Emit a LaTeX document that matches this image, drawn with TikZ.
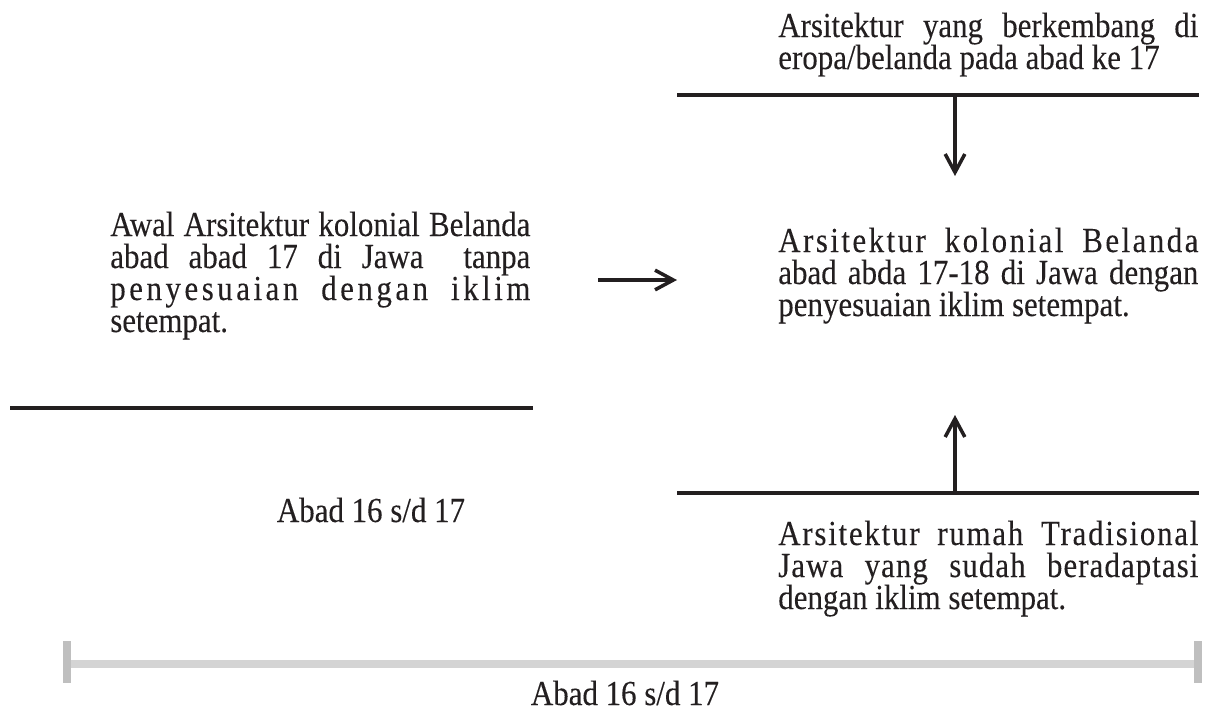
\documentclass[tikz,border=0pt]{standalone}
\usepackage{fontspec}
\setmainfont{Liberation Serif}[FakeStretch=0.88,FakeBold=0.15]
\usepackage{tikz}
\usetikzlibrary{arrows.meta,positioning}

\definecolor{ink}{HTML}{231F20}
\definecolor{barlight}{HTML}{D4D4D4}
\definecolor{bardark}{HTML}{BFBFBF}
\setlength{\lineskiplimit}{-10pt}

% justified line and letter spaced words
\newcommand\jl[1]{\makebox[\hsize][s]{#1}}
\newcommand\ls[2]{{\addfontfeature{LetterSpace=#1}#2}}

\begin{document}
\begin{tikzpicture}[x=0.025cm,y=-0.025cm,
    blok/.style={anchor=base west,inner sep=0pt,text width=10.5cm,align=justify,text=ink,
        font=\fontsize{25}{22.76}\selectfont},
    lbl/.style={anchor=base,inner sep=0pt,text=ink,font=\fontsize{25}{22.76}\selectfont},
    rule/.style={ink,line width=2.5pt},
    arr/.style={ink,line width=2.5pt,-{Straight Barb[length=13pt,width=14pt]}}]
    \useasboundingbox (0,0) rectangle (1211,711);

    % Texts
    \node[blok] (eropa) at (778,37) {\jl{Arsitektur yang berkembang di}\\ eropa/belanda pada abad ke 17};
    \node[blok] (awal) at (110,236) {\jl{Awal Arsitektur kolonial Belanda}\\ \jl{abad abad 17 di Jawa\ \ tanpa}\\ \jl{\ls{10}{penyesuaian dengan iklim}}\\ setempat.};
    \node[blok] (kolonial) at (778,252) {\jl{\ls{7}{Arsitektur kolonial Belanda}}\\ \jl{abad abda 17-18 di Jawa dengan}\\ penyesuaian iklim setempat.};
    \node[blok] (rumah) at (778,545) {\jl{\ls{5}{Arsitektur rumah Tradisional}}\\ \jl{\ls{3}{Jawa yang sudah beradaptasi}}\\ dengan iklim setempat.};
    \node[lbl] (abadkiri) at (371,522) {Abad 16 s/d 17};
    \node[lbl] (abadbawah) at (625,705) {Abad 16 s/d 17};

    % Rules
    \coordinate (atas-l) at (677,95); \coordinate (atas-r) at (1199,95);
    \coordinate (kiri-l) at (10,408); \coordinate (kiri-r) at (533,408);
    \coordinate (bawah-l) at (677,493); \coordinate (bawah-r) at (1199,493);
    \draw[rule] (atas-l) -- (atas-r);
    \draw[rule] (kiri-l) -- (kiri-r);
    \draw[rule] (bawah-l) -- (bawah-r);

    % Arrows
    \coordinate (turun-a) at (955,95); \coordinate (turun-b) at (955,176);
    \coordinate (naik-a) at (955,493); \coordinate (naik-b) at (955,415);
    \coordinate (kanan-a) at (598,280); \coordinate (kanan-b) at (677,280);
    \draw[arr] (turun-a) -- (turun-b);
    \draw[arr] (naik-a) -- (naik-b);
    \draw[arr] (kanan-a) -- (kanan-b);

    % Timeline
    \coordinate (garis-l) at (66.7,664); \coordinate (garis-r) at (1198,664);
    \draw[barlight,line width=0.2cm] (garis-l) -- (garis-r);
    \draw[bardark,line width=0.2cm] (garis-l) ++(0,-23) -- ++(0,42);
    \draw[bardark,line width=0.2cm] (garis-r) ++(0,-23) -- ++(0,42);
\end{tikzpicture}
\end{document}
